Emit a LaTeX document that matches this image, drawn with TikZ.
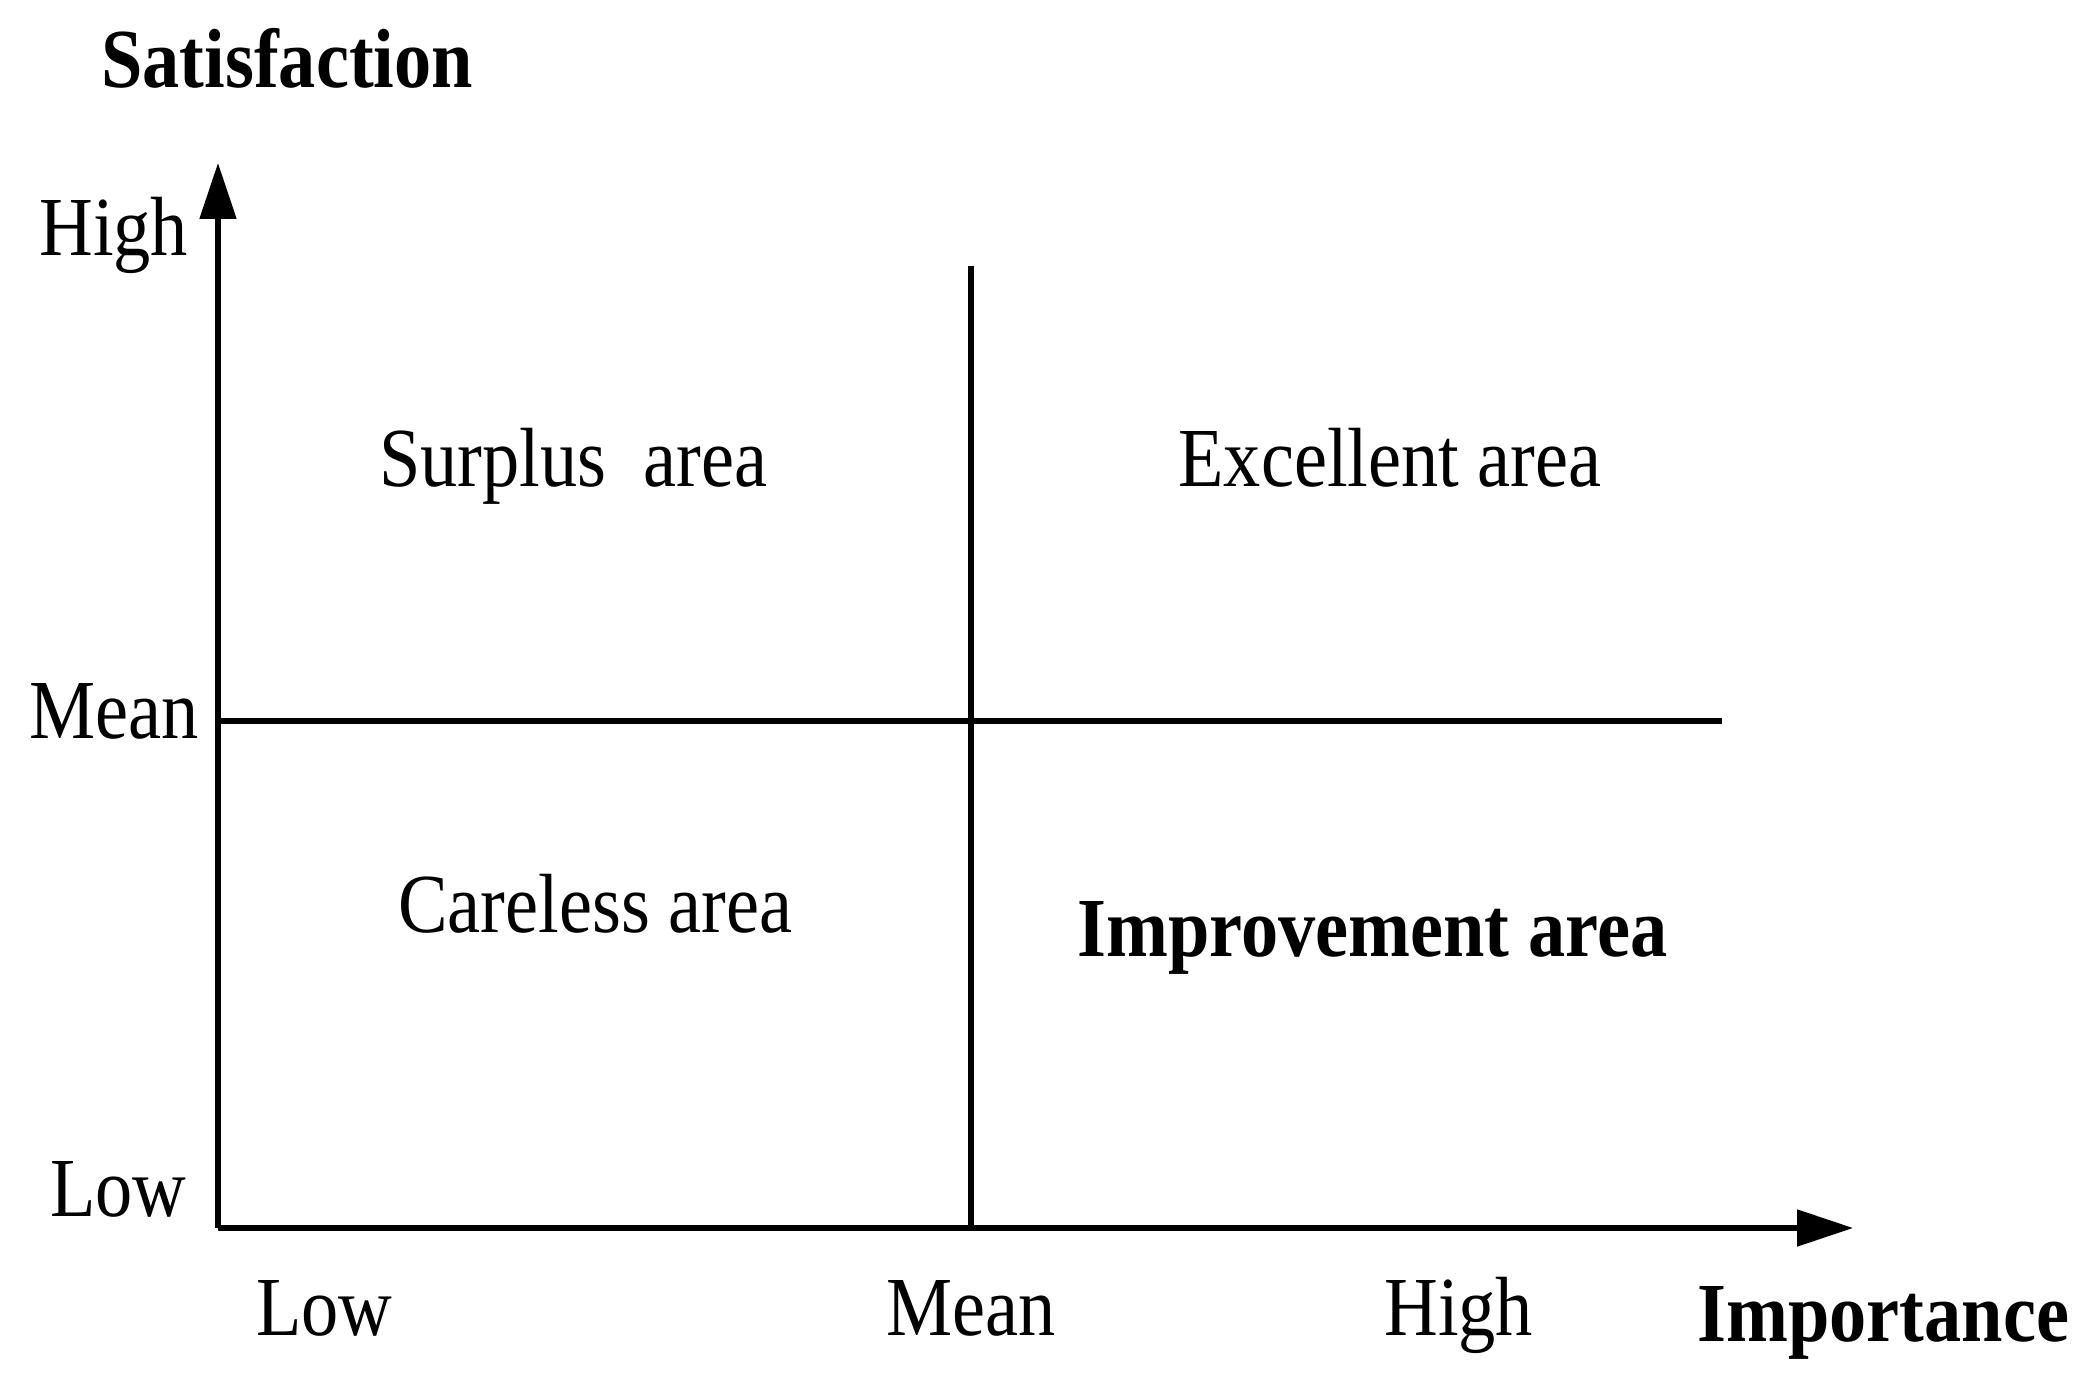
\documentclass[tikz,border=0pt]{standalone}
\usepackage{fontspec}
\setmainfont{Liberation Serif}[FakeStretch=0.885]
\usetikzlibrary{arrows.meta}
\tikzset{
  lbl/.style={inner sep=0pt, anchor=base west, font=\fontsize{42pt}{48pt}\selectfont},
  blbl/.style={lbl, font=\fontsize{42pt}{48pt}\selectfont\bfseries},
  axisline/.style={line width=2.6pt, -{Triangle[length=28pt,width=18pt]}},
  divline/.style={line width=2.6pt}
}
\begin{document}
\begin{tikzpicture}[x=0.5pt,y=-0.5pt]
\useasboundingbox (0,0) rectangle (2082,1390);
\coordinate (O) at (218,1228);
\coordinate (ytip) at (218,163);
\coordinate (xtip) at (1853,1228);
\coordinate (hL) at (218,721);
\coordinate (hR) at (1722,721);
\coordinate (vT) at (971,266);
\coordinate (vB) at (971,1228);
\draw[axisline] (O) -- (ytip);
\draw[axisline] (O) -- (xtip);
\draw[divline] (hL) -- (hR);
\draw[divline] (vT) -- (vB);
\node[blbl] (sat) at (101,88) {Satisfaction};
\node[lbl] (yhigh) at (39,256) {High};
\node[lbl] (ymean) at (29,738) {Mean};
\node[lbl] (ylow) at (50,1216) {Low};
\node[lbl] (surplus) at (379,486) {Surplus\ \ area};
\node[lbl] (excellent) at (1178,486) {Excellent area};
\node[lbl] (careless) at (398,932) {Careless area};
\node[blbl] (improve) at (1077,956) {Improvement area};
\node[lbl] (xlow) at (256,1335) {Low};
\node[lbl] (xmean) at (886,1335) {Mean};
\node[lbl] (xhigh) at (1384,1335) {High};
\node[blbl] (imp) at (1697,1341) {Importance};
\end{tikzpicture}
\end{document}
